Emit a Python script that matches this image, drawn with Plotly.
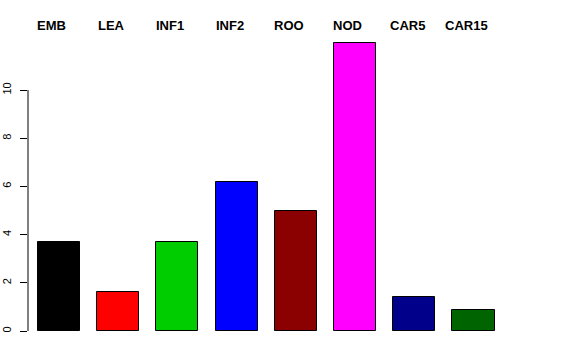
import plotly.graph_objects as go

categories = ["EMB", "LEA", "INF1", "INF2", "ROO", "NOD", "CAR5", "CAR15"]
values = [3.7, 1.6, 3.7, 6.2, 5.0, 11.95, 1.4, 0.88]
colors = ["#000000", "#FF0000", "#00CD00", "#0000FF", "#8B0000", "#FF00FF", "#00008B", "#006400"]
yticks = [0, 2, 4, 6, 8, 10]

xpos = list(range(len(categories)))

fig = go.Figure()
fig.add_trace(go.Bar(
    x=xpos, y=values, width=0.71,
    marker=dict(color=colors, line=dict(color="#000000", width=1)),
    showlegend=False, hoverinfo="skip",
))

for i, c in enumerate(categories):
    fig.add_annotation(x=i - 0.12, y=1.0, xref="x", yref="paper", yshift=2,
                       text=f"<b>{c}</b>", showarrow=False, xanchor="center", yanchor="bottom",
                       font=dict(family="Liberation Sans, Arial, sans-serif", size=13, color="#000000"))

# y axis line only from 0 to 10 (R style)
fig.add_shape(type="line", xref="paper", yref="y", x0=0, x1=0, y0=yticks[0], y1=yticks[-1],
              line=dict(color="#000000", width=1))

fig.update_layout(
    width=576, height=360,
    margin=dict(l=28, r=16, t=37, b=29, autoexpand=False),
    paper_bgcolor="white", plot_bgcolor="white",
    bargap=0,
    xaxis=dict(range=[-0.524, 8.461], visible=False, fixedrange=True, automargin=False),
    yaxis=dict(range=[0, 12.2], tickvals=yticks, ticktext=[str(v) for v in yticks],
               showgrid=False, zeroline=False, showline=False, automargin=False,
               ticks="outside", ticklen=7, tickcolor="#000000", tickwidth=1, ticklabelstandoff=5,
               tickangle=-90, tickfont=dict(family="Liberation Sans, Arial, sans-serif", size=11, color="#000000")),
    font=dict(family="Liberation Sans, Arial, sans-serif"),
)

fig.write_html("out.html", config={"displayModeBar": False},
               post_script="document.body.style.margin='0';document.body.style.padding='0';")
